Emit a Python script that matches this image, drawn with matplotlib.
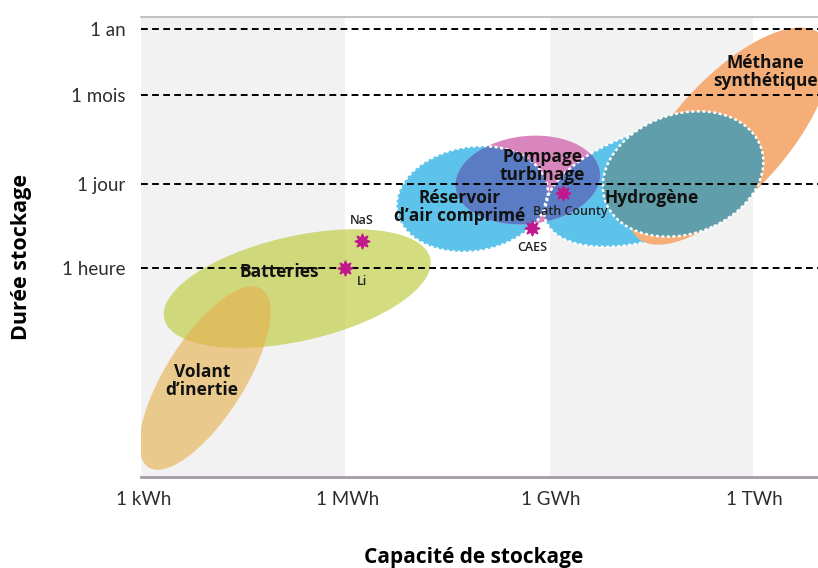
import numpy as np
import matplotlib.pyplot as plt
from matplotlib.patches import Ellipse

plt.rcParams['font.family'] = ['Open Sans', 'DejaVu Sans']

# axes: capacity in Wh, duration in hours (both shown in decades)
cap_ticks = [1e3, 1e6, 1e9, 1e12]
cap_labels = ['1 kWh', '1 MWh', '1 GWh', '1 TWh']
dur_ticks = [1, 24, 730, 8760]
dur_labels = ['1 heure', '1 jour', '1 mois', '1 an']

# technology zones (log10 Wh, log10 h), extents in decades, tilt in degrees
tech = ['Volant\nd’inertie', 'Batteries', 'Réservoir\nd’air comprimé',
        'Pompage\nturbinage', 'Hydrogène', 'Méthane\nsynthétique']
zone_cap = [3.90, 5.26, 7.84, 8.66, 10.46, 11.63]
zone_dur = [-1.82, -0.34, 1.14, 1.455, 1.37, 2.18]
zone_w = [3.39, 4.05, 2.26, 2.14, 3.29, 4.32]
zone_h = [1.2, 1.72, 1.72, 1.45, 1.75, 1.76]
zone_ang = [61.4, 14.9, 13, 8, 22.2, 52.5]
# hydrogen core zone
h2_cap, h2_dur, h2_w, h2_h, h2_ang = 10.95, 1.554, 2.47, 1.95, 27.6

label_cap = [3.855, 4.99, 7.66, 8.87, 10.48, 12.16]
label_dur = [-1.868, -0.066, 1.008, 1.686, 1.157, 3.24]

# examples of installations
site = ['NaS', 'Li', 'CAES', 'Bath County']
site_cap = [6.215, 5.965, 8.72, 9.18]
site_dur = [0.446, 0.0, 0.661, 1.24]
site_off = [(0, 15), (12, -9.5), (0, -13.7), (5, -13)]

fig = plt.figure(figsize=(8.18, 5.68), dpi=100)
ax = fig.add_axes([141/818, 91/568, 677/818, 460/568])
ax.set_xlim(2.956, 12.94)
ax.set_ylim(-3.455, 4.149)

ax.axvspan(2.9, 5.97, color='#f3f2f2', lw=0, zorder=0)
ax.axvspan(8.99, 11.98, color='#f3f2f2', lw=0, zorder=0)

def zone(i, **kw):
    e = Ellipse((zone_cap[i], zone_dur[i]), zone_w[i], zone_h[i], angle=zone_ang[i], **kw)
    ax.add_patch(e)
    return e

zone(1, fc='#c2cf4e', alpha=0.72, lw=0, zorder=1)
zone(0, fc='#e6b050', alpha=0.62, lw=0, zorder=2)
air = zone(2, fc='#5ec3eb', lw=0, zorder=3)
h2 = zone(4, fc='#5ec3eb', lw=0, zorder=3)
zone(3, fc='#d986be', lw=0, zorder=4)
for clip in [air, h2]:
    d = zone(3, fc='#5a7cc4', lw=0, zorder=5)
    d.set_clip_path(clip)
zone(2, fill=False, ec='white', lw=1.8, ls=(0, (1.2, 1)), zorder=6)
zone(4, fill=False, ec='white', lw=1.8, ls=(0, (1.2, 1)), zorder=6)
zone(5, fc='#f5ae78', lw=0, zorder=7)

ax.add_patch(Ellipse((h2_cap, h2_dur), h2_w, h2_h, angle=h2_ang, fc='#5f9eaa',
                     ec='white', lw=1.8, ls=(0, (1.2, 1)), zorder=8))

for y in np.log10(dur_ticks):
    ax.axhline(y, color='black', lw=1.4, ls=(0, (3.5, 2.2)), zorder=8.5)

for i in range(len(tech)):
    ax.text(label_cap[i], label_dur[i], tech[i], ha='center', va='center',
            fontsize=12.5, fontweight='bold', color='#111111', linespacing=1.0, zorder=10)

ax.plot(site_cap, site_dur, ls='none', marker=(8, 1, 0), ms=11, color='#c2188d', zorder=9)
for i in range(len(site)):
    ax.annotate(site[i], (site_cap[i], site_dur[i]), xytext=site_off[i], textcoords='offset points',
                ha='center', va='center', fontsize=9, fontweight='semibold', color='#222222', zorder=10)

ax.set_xticks(np.log10(cap_ticks))
ax.set_xticklabels(cap_labels)
ax.set_yticks(np.log10(dur_ticks))
ax.set_yticklabels(dur_labels)
ax.tick_params(length=0, labelsize=13.5, labelcolor='#2e2e2e')
ax.tick_params(axis='x', pad=10)
ax.tick_params(axis='y', pad=11)
for t in ax.get_xticklabels() + ax.get_yticklabels():
    t.set_family(['Lato', 'DejaVu Sans'])
    t.set_fontweight('normal')

for s in ['left', 'right']:
    ax.spines[s].set_visible(False)
ax.spines['top'].set_color('#b8b8b8')
ax.spines['top'].set_linewidth(1.2)
ax.spines['bottom'].set_color('#a39aa3')
ax.spines['bottom'].set_linewidth(2)

fig.text(474/818, 1 - 557/568, 'Capacité de stockage', ha='center', va='center',
         fontsize=15, fontweight='bold')
fig.text(22/818, 1 - 257/568, 'Durée stockage', ha='center', va='center', rotation=90,
         fontsize=15.5, fontweight='bold')

fig.savefig('out.png', dpi=100)
